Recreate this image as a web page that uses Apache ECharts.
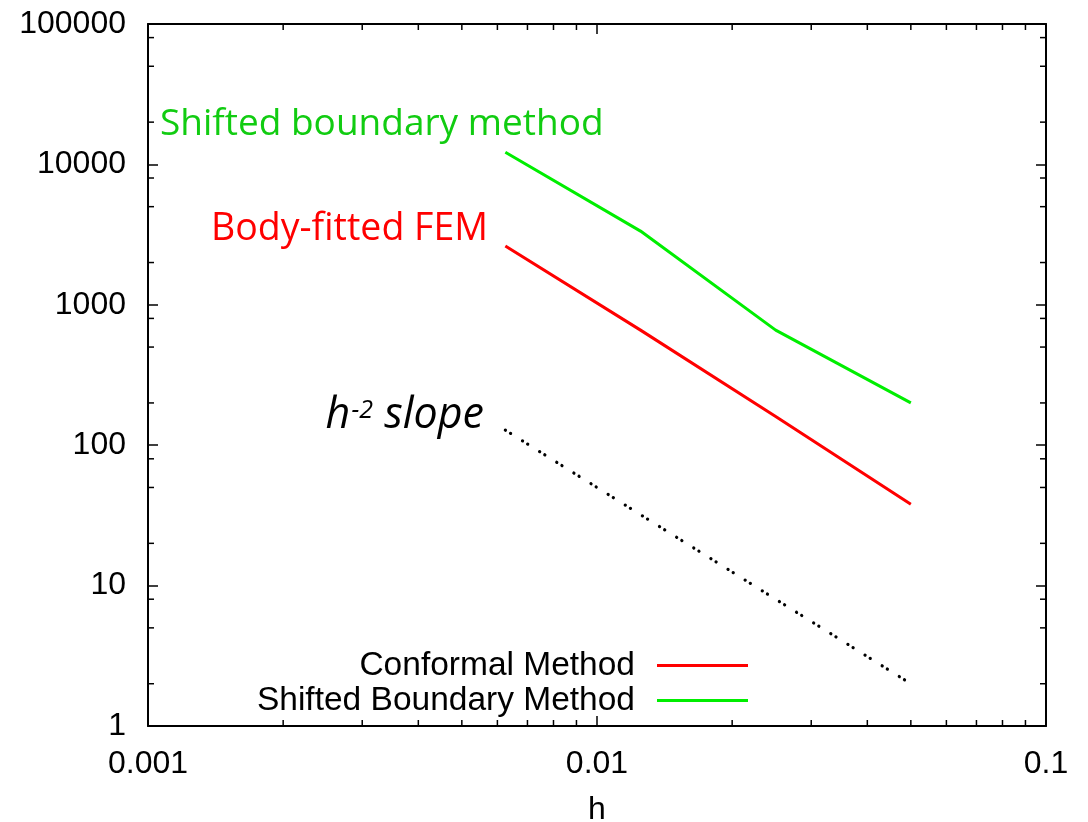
<!DOCTYPE html>
<html>
<head>
<meta charset="utf-8">
<script src="https://cdn.jsdelivr.net/npm/echarts@6/dist/echarts.min.js"></script>
<style>
html,body{margin:0;padding:0;background:#fff;}
#chart{width:1088px;height:822px;}
</style>
</head>
<body>
<div id="chart"></div>
<script>
// ---- data ----
const hValues = [0.00625, 0.0125, 0.025, 0.05];
const conformal = [2620, 660, 160, 38];
const shiftedBoundary = [12200, 3350, 660, 200];
const slopeRef = [128, 32, 8, 2];
const xTickValues = [0.001, 0.01, 0.1];
const xTickLabels = ['0.001', '0.01', '0.1'];
const yTickValues = [1, 10, 100, 1000, 10000, 100000];
const yTickLabels = ['1', '10', '100', '1000', '10000', '100000'];
const xMinorMultipliers = [2, 3, 4, 5, 6, 7, 8, 9];
const yMinorMultipliers = [2, 5, 8];
const seriesNames = ['Conformal Method', 'Shifted Boundary Method'];

function pairs(xs, ys) { return xs.map((x, i) => [x, ys[i]]); }
function labelFor(values, labels, v) {
  for (let i = 0; i < values.length; i++) {
    if (Math.abs(Math.log10(v) - Math.log10(values[i])) < 1e-6) return labels[i];
  }
  return '';
}

(function () {
const chart = echarts.init(document.getElementById('chart'));
const axisFont = 'Liberation Sans';
const base = {
  type: 'log', logBase: 10,
  splitLine: { show: false },
  axisLine: { show: true, lineStyle: { color: '#000', width: 2 } },
  axisTick: { show: true, inside: true, length: 10, lineStyle: { color: '#000', width: 1.5 } }
};

chart.setOption({
  animation: false,
  backgroundColor: '#fff',
  grid: { left: 148, right: 42, top: 24, bottom: 96, containLabel: false, outerBoundsMode: 'none' },
  xAxis: [
    Object.assign({}, base, {
      position: 'bottom', min: 0.001, max: 0.1,
      name: 'h', nameLocation: 'middle', nameGap: 68,
      nameTextStyle: { fontFamily: axisFont, fontSize: 32, color: '#000' },
      axisLabel: { fontFamily: axisFont, fontSize: 32, color: '#000', margin: 22,
        formatter: v => labelFor(xTickValues, xTickLabels, v) }
    }),
    Object.assign({}, base, {
      position: 'top', min: 0.001, max: 0.1, axisLabel: { show: false }
    })
  ],
  yAxis: [
    Object.assign({}, base, {
      position: 'left', min: 1, max: 100000,
      axisLabel: { fontFamily: axisFont, fontSize: 32, color: '#000', margin: 22,
        formatter: v => labelFor(yTickValues, yTickLabels, v) }
    }),
    Object.assign({}, base, {
      position: 'right', min: 1, max: 100000, axisLabel: { show: false }
    })
  ],
  legend: {
    orient: 'vertical', right: 335, top: 643, align: 'right',
    itemWidth: 91, itemHeight: 3, itemGap: 0, icon: 'rect',
    textStyle: { fontFamily: axisFont, fontSize: 33.5, color: '#000', lineHeight: 35, padding: [0, 17, 0, 0] },
    data: seriesNames
  },
  series: [
    { name: seriesNames[0], type: 'line', symbol: 'none', data: pairs(hValues, conformal),
      lineStyle: { color: '#ff0000', width: 3 }, itemStyle: { color: '#ff0000' } },
    { name: seriesNames[1], type: 'line', symbol: 'none', data: pairs(hValues, shiftedBoundary),
      lineStyle: { color: '#00ee00', width: 3 }, itemStyle: { color: '#00ee00' } },
    { name: 'slope', type: 'line', symbol: 'none', data: pairs(hValues, slopeRef),
      lineStyle: { color: '#000', width: 3.2, type: [0.1, 6, 0.1, 14], cap: 'round' }, itemStyle: { color: '#000' } }
  ]
});

// minor ticks via library scales
const graphics = [];
const pBottom = chart.convertToPixel({ yAxisIndex: 0 }, 1);
const pTop = chart.convertToPixel({ yAxisIndex: 0 }, 100000);
const pLeft = chart.convertToPixel({ xAxisIndex: 0 }, 0.001);
const pRight = chart.convertToPixel({ xAxisIndex: 0 }, 0.1);
const minorLen = 6;
const tickStyle = { stroke: '#000', lineWidth: 1.5 };
for (let e = -3; e < -1; e++) {
  xMinorMultipliers.forEach(m => {
    const px = chart.convertToPixel({ xAxisIndex: 0 }, m * Math.pow(10, e));
    graphics.push({ type: 'line', shape: { x1: px, y1: pBottom, x2: px, y2: pBottom - minorLen }, style: tickStyle, silent: true });
    graphics.push({ type: 'line', shape: { x1: px, y1: pTop, x2: px, y2: pTop + minorLen }, style: tickStyle, silent: true });
  });
}
for (let e = 0; e < 5; e++) {
  yMinorMultipliers.forEach(m => {
    const py = chart.convertToPixel({ yAxisIndex: 0 }, m * Math.pow(10, e));
    graphics.push({ type: 'line', shape: { x1: pLeft, y1: py, x2: pLeft + minorLen, y2: py }, style: tickStyle, silent: true });
    graphics.push({ type: 'line', shape: { x1: pRight, y1: py, x2: pRight - minorLen, y2: py }, style: tickStyle, silent: true });
  });
}
// annotations
const annFont = 'Open Sans';
graphics.push({ type: 'text', x: 160, y: 124, style: { text: 'Shifted boundary method', fill: '#11cc11', font: '37px "' + annFont + '"', verticalAlign: 'middle', align: 'left' } });
graphics.push({ type: 'text', x: 488, y: 229, style: { text: 'Body-fitted FEM', fill: '#ff0000', font: '37.5px "' + annFont + '"', verticalAlign: 'middle', align: 'right' } });
graphics.push({ type: 'text', x: 484, y: 416, style: {
  text: '{a|h}{b|-2}{a| slope}', align: 'right', verticalAlign: 'middle',
  rich: {
    a: { fontFamily: annFont, fontStyle: 'italic', fontSize: 43, fill: '#000', color: '#000' },
    b: { fontFamily: annFont, fontStyle: 'italic', fontSize: 25, fill: '#000', color: '#000', verticalAlign: 'top', padding: [4, 0, 0, 1] }
  } } });
chart.setOption({ graphic: graphics });
})();
</script>
</body>
</html>
